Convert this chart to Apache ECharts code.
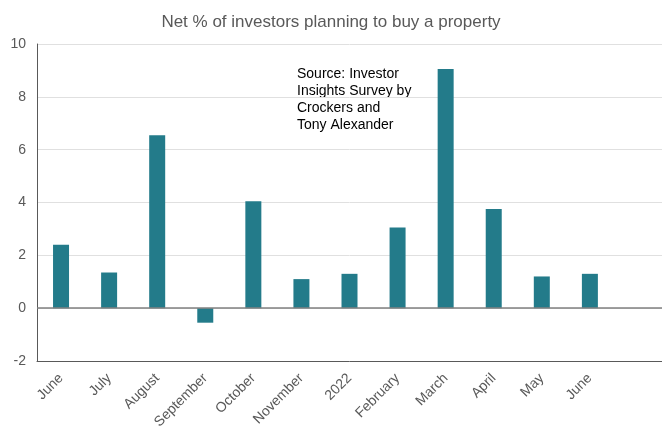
<!DOCTYPE html>
<html lang="en">
<head>
  <meta charset="UTF-8">
  <title>Net % of investors planning to buy a property</title>
  <style>
    html, body { margin: 0; padding: 0; background-color: #fff; }
  </style>
  <script src="https://cdn.jsdelivr.net/npm/echarts@6/dist/echarts.min.js"></script>
</head>
<body>
<div id="chart" style="width: 662px; height: 428px;"></div>
<script>
  // months of the survey, last slot left empty like the original
  const months = ['June', 'July', 'August', 'September', 'October', 'November',
    '2022', 'February', 'March', 'April', 'May', 'June', '']
  const netPct = [2.4, 1.35, 6.55, -0.55, 4.05, 1.1, 1.3, 3.05, 9.05, 3.75, 1.2, 1.3]
  const yTicks = { min: -2, max: 10, step: 2 }

  const chart = echarts.init(document.getElementById('chart'))
  const grey = '#595959'

  const option = {
    animation: false,
    title: {
      text: 'Net % of investors planning to buy a property',
      left: 'center',
      top: 9,
      textStyle: {
        fontFamily: 'Liberation Sans',
        fontSize: 17,
        fontWeight: 'normal',
        color: grey
      }
    },
    grid: { left: 37, right: 0, top: 44, bottom: 67, outerBoundsMode: 'none', containLabel: false },
    graphic: [{
      type: 'text',
      left: 297,
      top: 66,
      style: {
        text: 'Source: Investor\nInsights Survey by\nCrockers and\nTony Alexander',
        fontFamily: 'Liberation Sans',
        fontSize: 14,
        lineHeight: 17,
        fill: '#000'
      }
    }],
    xAxis: {
      type: 'category',
      data: months,
      axisLine: { onZero: false, lineStyle: { color: grey, width: 1 } },
      axisTick: { show: false },
      axisLabel: {
        rotate: 45,
        interval: 0,
        color: grey,
        fontFamily: 'Liberation Sans',
        fontSize: 14,
        margin: 15
      }
    },
    yAxis: {
      type: 'value',
      min: yTicks.min,
      max: yTicks.max,
      interval: yTicks.step,
      axisLine: { show: true, lineStyle: { color: grey, width: 1 } },
      axisTick: { show: false },
      axisLabel: {
        color: grey,
        fontFamily: 'Liberation Sans',
        fontSize: 14,
        margin: 11
      },
      splitLine: { lineStyle: { color: '#e0e0e0', width: 1 } }
    },
    series: [{
      type: 'bar',
      data: netPct,
      barWidth: 16,
      itemStyle: { color: '#237b8a' },
      markLine: {
        silent: true,
        symbol: 'none',
        label: { show: false },
        lineStyle: { color: '#808080', width: 1.5, type: 'solid' },
        data: [{ yAxis: 0 }]
      }
    }]
  }
  chart.setOption(option)
</script>
</body>
</html>
